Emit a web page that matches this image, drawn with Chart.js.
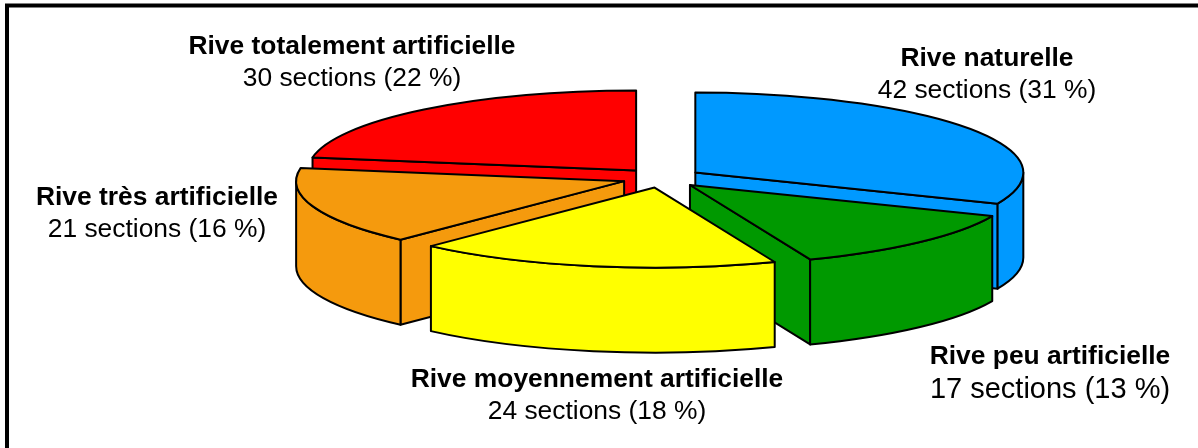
<!DOCTYPE html>
<html>
<head>
<meta charset="utf-8">
<script src="https://cdn.jsdelivr.net/npm/chart.js@4/dist/chart.umd.min.js"></script>
<style>
  html, body { margin: 0; padding: 0; background: #fff; }
  canvas { display: block; }
</style>
</head>
<body>
<canvas id="chart" width="1198" height="448"></canvas>
<script>
const categories = ['Rive naturelle', 'Rive peu artificielle', 'Rive moyennement artificielle', 'Rive très artificielle', 'Rive totalement artificielle'];
const sections = [42, 17, 24, 21, 30];
const percents = [31, 13, 18, 16, 22];
const colors = ['#0099FF', '#009900', '#FFFF00', '#F59A0D', '#FF0000'];

// label placement: centre x, first line y, second line y, second line font size
const labelLayout = [
  [987, 59, 91, 26.4],
  [1050, 357, 390, 29],
  [597, 380, 412, 26.4],
  [157, 198, 230, 26.4],
  [352, 47, 79, 26.4]
];
const BOLD_SIZE = 26.4;

// look of the tilted pie
const RX = 328;
const RY = 80;
const DEPTH = 85;
const EXPLODE = 40 / 328;

// back slices first so the front ones cover them
const paintOrder = [4, 3, 0, 1, 2];

function drawWall(ctx, cx, cy, wx, wy) {
  ctx.beginPath();
  ctx.moveTo(cx, cy);
  ctx.lineTo(wx, wy);
  ctx.lineTo(wx, wy + DEPTH);
  ctx.lineTo(cx, cy + DEPTH);
  ctx.closePath();
  ctx.fill();
  ctx.stroke();
}

function drawSlice(ctx, arc, color) {
  const { x, y, startAngle, endAngle } = arc.getProps(['x', 'y', 'startAngle', 'endAngle'], true);
  const mid = (startAngle + endAngle) / 2;
  const cx = x + Math.cos(mid) * RX * EXPLODE;
  const cy = y + Math.sin(mid) * RY * EXPLODE;

  ctx.fillStyle = color;
  ctx.strokeStyle = '#000';
  ctx.lineWidth = 2;
  ctx.lineJoin = 'round';

  // radial walls, only when they face the viewer
  if (Math.cos(startAngle) < -1e-6) {
    drawWall(ctx, cx, cy, cx + Math.cos(startAngle) * RX, cy + Math.sin(startAngle) * RY);
  }
  if (Math.cos(endAngle) > 1e-6) {
    drawWall(ctx, cx, cy, cx + Math.cos(endAngle) * RX, cy + Math.sin(endAngle) * RY);
  }

  // outer rim, only the part that faces the viewer
  const from = Math.max(startAngle, 0);
  const to = Math.min(endAngle, Math.PI);
  if (to > from) {
    ctx.beginPath();
    ctx.ellipse(cx, cy, RX, RY, 0, from, to);
    ctx.ellipse(cx, cy + DEPTH, RX, RY, 0, to, from, true);
    ctx.closePath();
    ctx.fill();
    ctx.stroke();
  }

  // top face
  ctx.beginPath();
  ctx.moveTo(cx, cy);
  ctx.ellipse(cx, cy, RX, RY, 0, startAngle, endAngle);
  ctx.closePath();
  ctx.fill();
  ctx.stroke();
}

const pie3d = {
  id: 'pie3d',
  beforeDatasetDraw(chart, args) {
    const { ctx } = chart;
    const arcs = args.meta.data;
    ctx.save();
    paintOrder.forEach(i => drawSlice(ctx, arcs[i], colors[i]));
    ctx.restore();
    return false; // the flat arcs are replaced by the tilted ones
  },
  afterDraw(chart) {
    const { ctx } = chart;
    ctx.save();
    ctx.textAlign = 'center';
    ctx.textBaseline = 'middle';
    ctx.fillStyle = '#000';
    categories.forEach((name, i) => {
      const [lx, y1, y2, size] = labelLayout[i];
      ctx.font = `bold ${BOLD_SIZE}px "Liberation Sans", Arial, sans-serif`;
      ctx.fillText(name, lx, y1);
      ctx.font = `${size}px "Liberation Sans", Arial, sans-serif`;
      ctx.fillText(`${sections[i]} sections (${percents[i]} %)`, lx, y2);
    });
    // frame, top and left only
    ctx.strokeStyle = '#000';
    ctx.lineWidth = 4;
    ctx.lineJoin = 'miter';
    ctx.beginPath();
    ctx.moveTo(7, 448);
    ctx.lineTo(7, 5.5);
    ctx.lineTo(1198, 5.5);
    ctx.stroke();
    ctx.restore();
  }
};

new Chart(document.getElementById('chart'), {
  type: 'pie',
  data: {
    labels: categories,
    datasets: [{ data: sections, backgroundColor: colors }]
  },
  options: {
    responsive: false,
    animation: false,
    layout: { padding: { left: 126, bottom: 92 } },
    plugins: { legend: { display: false }, tooltip: { enabled: false } }
  },
  plugins: [pie3d]
});
</script>
</body>
</html>
